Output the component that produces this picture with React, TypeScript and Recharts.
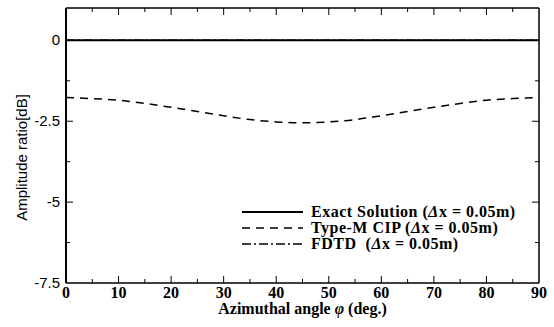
import React from 'react';
import { LineChart, Line, XAxis, YAxis, Legend } from 'recharts';

const phiDeg = [0, 5, 10, 15, 20, 25, 30, 35, 40, 45, 50, 55, 60, 65, 70, 75, 80, 85, 90];
const exactSolution = [0, 0, 0, 0, 0, 0, 0, 0, 0, 0, 0, 0, 0, 0, 0, 0, 0, 0, 0];
const typeMCip = [-1.77, -1.8, -1.85, -1.95, -2.07, -2.2, -2.33, -2.45, -2.52, -2.55, -2.52, -2.45, -2.33, -2.2, -2.07, -1.95, -1.85, -1.8, -1.77];
const fdtd = [0, 0, 0, 0, 0, 0, 0, 0, 0, 0, 0, 0, 0, 0, 0, 0, 0, 0, 0];

const xMajorTicks = [0, 10, 20, 30, 40, 50, 60, 70, 80, 90];
const xAllTicks = [0, 5, 10, 15, 20, 25, 30, 35, 40, 45, 50, 55, 60, 65, 70, 75, 80, 85, 90];
const yMajorTicks = [-7.5, -5, -2.5, 0];
const yAllTicks = [-7.5, -6.25, -5, -3.75, -2.5, -1.25, 0];
const yLabels: Record<string, string> = { '-7.5': '-7.5', '-5': '-5', '-2.5': '-2.5', '0': '0' };

const seriesNames = {
  exact: 'Exact Solution (Δx = 0.05m)',
  cip: 'Type-M CIP (Δx = 0.05m)',
  fdtd: 'FDTD  (Δx = 0.05m)',
};
const legendOrder = ['exact', 'cip', 'fdtd'];

const data = phiDeg.map((p, i) => ({ phi: p, exact: exactSolution[i], cip: typeMCip[i], fdtd: fdtd[i] }));

const SERIF = '"Liberation Serif", "Times New Roman", serif';
const SANS = '"Liberation Sans", Arial, sans-serif';

const XTick = (orient: 'bottom' | 'top', showLabel: boolean) => (props: any) => {
  const { x, y, payload } = props;
  const v = payload.value;
  const major = xMajorTicks.includes(v);
  const len = major ? 7 : 4;
  const dir = orient === 'bottom' ? -1 : 1;
  return (
    <g>
      {v !== 0 && v !== 90 && <line x1={x} y1={y} x2={x} y2={y + dir * len} stroke="#000" strokeWidth={1} />}
      {showLabel && major && (
        <text x={x} y={y + 15} textAnchor="middle" fontFamily={SERIF} fontSize={16} fontWeight="bold" fill="#000">
          {v}
        </text>
      )}
    </g>
  );
};

const YTick = (orient: 'left' | 'right', showLabel: boolean) => (props: any) => {
  const { x, y, payload } = props;
  const v = payload.value;
  const major = yMajorTicks.includes(v);
  const len = major ? 7 : 4;
  const dir = orient === 'left' ? 1 : -1;
  const label = yLabels[String(v)];
  return (
    <g>
      {v !== -7.5 && <line x1={x} y1={y} x2={x + dir * len} y2={y} stroke="#000" strokeWidth={1} />}
      {showLabel && label && (
        <text x={x - 6} y={y + 5} textAnchor="end" fontFamily={SANS} fontSize={15} fill="#000">
          {label}
        </text>
      )}
    </g>
  );
};

const renderLegend = (props: any) => {
  const payload = [...(props.payload || [])].sort(
    (a: any, b: any) => legendOrder.indexOf(a.dataKey) - legendOrder.indexOf(b.dataKey)
  );
  return (
    <svg width={300} height={52} style={{ display: 'block' }}>
      {payload.map((entry: any, i: number) => {
        const yy = 9 + i * 16;
        const txt: string = entry.value;
        const parts = txt.split('Δ');
        return (
          <g key={i}>
            <line x1={2} y1={yy} x2={63} y2={yy} stroke="#000" strokeWidth={entry.payload.strokeWidth || 1.5} strokeDasharray={entry.payload.strokeDasharray} />
            <text x={71} y={yy + 5} fontFamily={SERIF} fontSize={16} fontWeight="bold" letterSpacing={0.5} fill="#000" style={{ whiteSpace: 'pre' }}>
              {parts[0]}
              <tspan fontStyle="italic">Δ</tspan>
              {parts[1]}
            </text>
          </g>
        );
      })}
    </svg>
  );
};

export default function App() {
  return (
    <div style={{ position: 'absolute', left: 0, top: 0, width: 554, height: 327, background: '#fff' }}>
      <LineChart width={554} height={327} data={data} margin={{ top: 0, right: 0, bottom: 0, left: 0 }}>
        <XAxis
          xAxisId="bottom"
          dataKey="phi"
          type="number"
          domain={[0, 90]}
          ticks={xAllTicks}
          interval={0}
          height={44}
          tickSize={0}
          tickMargin={0}
          tickLine={false}
          axisLine={{ stroke: '#000', strokeWidth: 1.5 }}
          tick={XTick('bottom', true)}
          label={{
            content: (p: any) => {
              const vb = p.viewBox;
              return (
                <text x={vb.x + vb.width / 2} y={vb.y + 31} textAnchor="middle" fontFamily={SERIF} fontSize={16} fontWeight="bold" fill="#000">
                  Azimuthal angle <tspan fontStyle="italic">φ</tspan> (deg.)
                </text>
              );
            },
          }}
        />
        <XAxis
          xAxisId="top"
          orientation="top"
          dataKey="phi"
          type="number"
          domain={[0, 90]}
          ticks={xAllTicks}
          interval={0}
          height={8}
          tickSize={0}
          tickMargin={0}
          tickLine={false}
          axisLine={{ stroke: '#000', strokeWidth: 1.5 }}
          tick={XTick('top', false)}
        />
        <YAxis
          yAxisId="left"
          type="number"
          domain={[-7.5, 1]}
          ticks={yAllTicks}
          interval={0}
          width={66}
          tickSize={0}
          tickMargin={0}
          tickLine={false}
          allowDataOverflow
          axisLine={{ stroke: '#000', strokeWidth: 2 }}
          tick={YTick('left', true)}
          label={{
            content: (p: any) => {
              const vb = p.viewBox;
              const cx = 27;
              const cy = vb.y + vb.height / 2 + 12;
              return (
                <text x={cx} y={cy} transform={`rotate(-90 ${cx} ${cy})`} textAnchor="middle" fontFamily={SANS} fontSize={15} fill="#000">
                  Amplitude ratio[dB]
                </text>
              );
            },
          }}
        />
        <YAxis
          yAxisId="right"
          orientation="right"
          type="number"
          domain={[-7.5, 1]}
          ticks={yAllTicks}
          interval={0}
          width={15}
          tickSize={0}
          tickMargin={0}
          tickLine={false}
          allowDataOverflow
          axisLine={{ stroke: '#000', strokeWidth: 1.5 }}
          tick={YTick('right', false)}
        />
        <Legend
          layout="vertical"
          align="center"
          verticalAlign="middle"
          content={renderLegend}
          wrapperStyle={{ left: 240, top: 203, width: 300, height: 52 }}
        />
        <Line xAxisId="bottom" yAxisId="left" dataKey="exact" name={seriesNames.exact} stroke="#000" strokeWidth={2} dot={false} isAnimationActive={false} />
        <Line xAxisId="bottom" yAxisId="left" dataKey="cip" name={seriesNames.cip} stroke="#000" strokeWidth={1.5} strokeDasharray="8 6" dot={false} isAnimationActive={false} type="monotone" />
        <Line xAxisId="bottom" yAxisId="left" dataKey="fdtd" name={seriesNames.fdtd} stroke="#000" strokeWidth={1.5} strokeDasharray="9 3 2 3" dot={false} isAnimationActive={false} />
      </LineChart>
    </div>
  );
}
